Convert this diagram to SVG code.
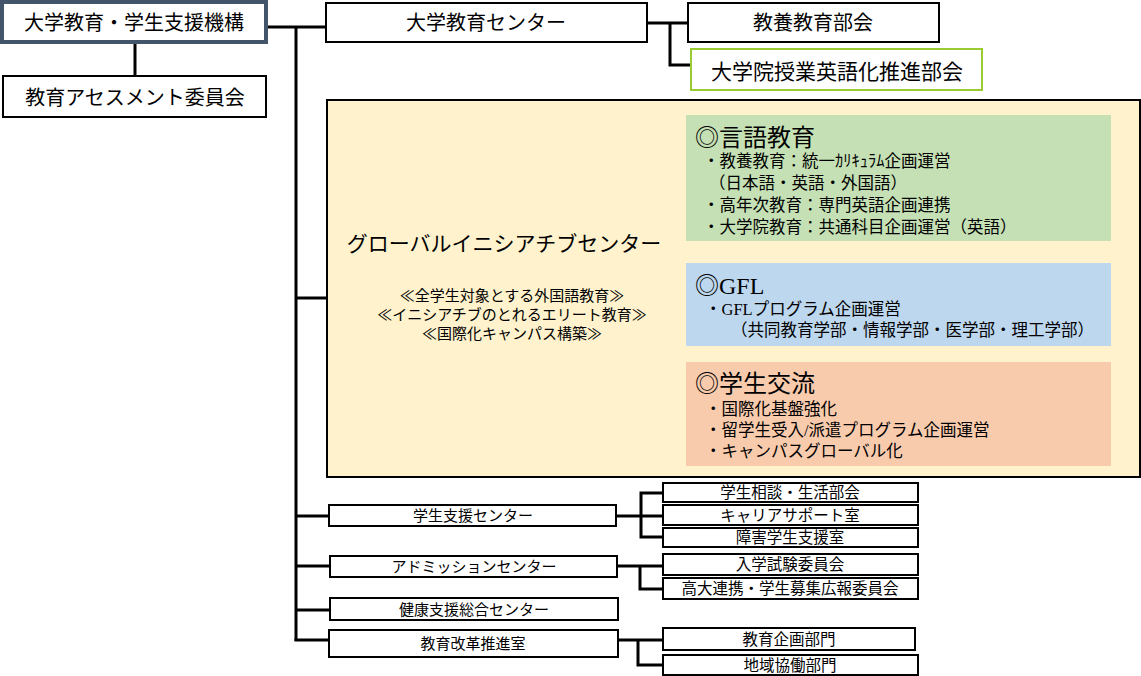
<svg xmlns="http://www.w3.org/2000/svg" width="1141" height="676" viewBox="0 0 1141 676">
<style>
text{font-family:"Liberation Sans","Noto Sans CJK JP",sans-serif;fill:#000}
.c{text-anchor:middle}
.box{fill:#fff;stroke:#000;stroke-width:2}
.ln{fill:none;stroke:#000;stroke-width:3}
.t20{font-size:20px}
.t15{font-size:15px}
.s15{font-size:15.5px}
.it{font-size:16.5px}
.hd{font-size:24px}
.sr{font-family:"Liberation Serif","Noto Sans CJK JP",serif}
</style>
<rect x="0" y="0" width="1141" height="676" fill="#fff"/>
<g id="connectors">
<path class="ln" d="M135,42V76"/>
<path class="ln" d="M266,27H326"/>
<path class="ln" d="M296,27V641"/>
<path class="ln" d="M296,298H327"/>
<path class="ln" d="M296,516H329"/>
<path class="ln" d="M296,566H330"/>
<path class="ln" d="M296,610H330"/>
<path class="ln" d="M294.5,640H329"/>
<path class="ln" d="M647,23H688"/>
<path class="ln" d="M670,23V65H691"/>
<path class="ln" d="M616,516H663"/>
<path class="ln" d="M663,493H641V537H663"/>
<path class="ln" d="M617,566H663"/>
<path class="ln" d="M640,566V589H663"/>
<path class="ln" d="M618,640H663"/>
<path class="ln" d="M638,640V665H663"/>
</g>
<g id="n-kikou">
<rect x="2" y="2" width="264" height="40" fill="#fff" stroke="#44546a" stroke-width="4"/>
<text class="t20 c" x="134" y="30">大学教育・学生支援機構</text>
</g>
<g id="n-assess">
<rect class="box" x="3" y="76" width="263" height="41"/>
<text class="t20 c" x="135" y="105">教育アセスメント委員会</text>
</g>
<g id="n-center">
<rect class="box" x="326" y="3" width="321" height="39"/>
<text class="t20 c" x="486" y="30">大学教育センター</text>
</g>
<g id="n-kyouyou">
<rect class="box" x="688" y="3" width="251" height="39"/>
<text class="t20 c" x="813" y="30">教養教育部会</text>
</g>
<g id="n-eigoka">
<rect x="691" y="49" width="291" height="41" fill="#fff" stroke="#99cc33" stroke-width="2"/>
<text class="c" style="font-size:21px" x="837" y="79">大学院授業英語化推進部会</text>
</g>
<g id="n-global">
<rect x="327" y="100" width="813" height="377" fill="#fff2cc" stroke="#000" stroke-width="2"/>
<text class="c" style="font-size:21px" x="504" y="251">グローバルイニシアチブセンター</text>
<text class="t15 c" x="512" y="301">≪全学生対象とする外国語教育≫</text>
<text class="t15 c" x="512" y="320">≪イニシアチブのとれるエリート教育≫</text>
<text class="t15 c" x="512" y="339">≪国際化キャンパス構築≫</text>
</g>
<g id="n-gengo">
<rect x="686" y="115" width="425" height="126" fill="#c5e0b4"/>
<text class="hd" x="695" y="146">◎言語教育</text>
<text class="it" x="703" y="167">・教養教育：統一ｶﾘｷｭﾗﾑ企画運営</text>
<text class="it" x="709" y="189">（日本語・英語・外国語）</text>
<text class="it" x="703" y="211">・高年次教育：専門英語企画連携</text>
<text class="it" x="703" y="233">・大学院教育：共通科目企画運営（英語）</text>
</g>
<g id="n-gfl">
<rect x="686" y="263" width="425" height="83" fill="#bdd7ee"/>
<text class="hd sr" x="695" y="294">◎GFL</text>
<text class="it sr" x="705" y="315">・GFLプログラム企画運営</text>
<text class="it sr" x="731" y="336">（共同教育学部・情報学部・医学部・理工学部）</text>
</g>
<g id="n-kouryu">
<rect x="686" y="362" width="425" height="104" fill="#f8cbad"/>
<text class="hd sr" x="695" y="392">◎学生交流</text>
<text class="it sr" x="705" y="415">・国際化基盤強化</text>
<text class="it sr" x="705" y="436">・留学生受入/派遣プログラム企画運営</text>
<text class="it sr" x="705" y="457">・キャンパスグローバル化</text>
</g>
<g id="n-shien">
<rect class="box" x="329" y="505" width="287" height="21"/>
<text class="t15 c" x="473" y="521">学生支援センター</text>
</g>
<g id="n-admission">
<rect class="box" x="330" y="556" width="287" height="21"/>
<text class="t15 c" x="474" y="572">アドミッションセンター</text>
</g>
<g id="n-kenkou">
<rect class="box" x="330" y="598" width="288" height="22"/>
<text class="t15 c" x="474" y="615">健康支援総合センター</text>
</g>
<g id="n-kaikaku">
<rect class="box" x="329" y="630" width="289" height="27"/>
<text class="t15 c" x="473" y="649">教育改革推進室</text>
</g>
<g id="n-soudan">
<rect class="box" x="663" y="483" width="255" height="19"/>
<text class="s15 c" x="790" y="498">学生相談・生活部会</text>
</g>
<g id="n-career">
<rect class="box" x="663" y="505" width="255" height="20"/>
<text class="s15 c" x="790" y="521">キャリアサポート室</text>
</g>
<g id="n-shougai">
<rect class="box" x="663" y="528" width="255" height="19"/>
<text class="s15 c" x="790" y="543">障害学生支援室</text>
</g>
<g id="n-nyushi">
<rect class="box" x="663" y="554" width="255" height="21"/>
<text class="s15 c" x="790" y="570">入学試験委員会</text>
</g>
<g id="n-koudai">
<rect class="box" x="663" y="578" width="255" height="21"/>
<text class="s15 c" x="790" y="594">高大連携・学生募集広報委員会</text>
</g>
<g id="n-kikaku">
<rect class="box" x="663" y="628" width="252" height="22"/>
<text class="s15 c" x="789" y="645">教育企画部門</text>
</g>
<g id="n-chiiki">
<rect class="box" x="663" y="655" width="255" height="20"/>
<text class="s15 c" x="790" y="671">地域協働部門</text>
</g>
</svg>
